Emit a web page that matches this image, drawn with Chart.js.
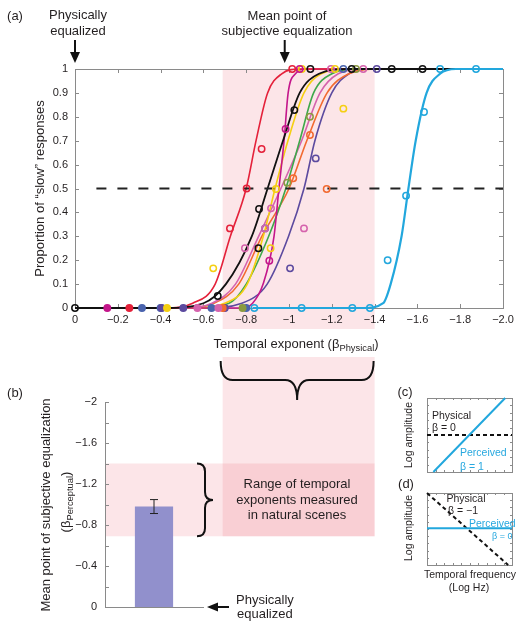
<!DOCTYPE html>
<html>
<head>
<meta charset="utf-8">
<script src="https://cdn.jsdelivr.net/npm/chart.js@4"></script>
<style>
    body { margin: 0; background: #fff; width: 525px; height: 630px; position: relative; overflow: hidden;
           font-family: 'Liberation Sans', Arial, sans-serif; color: #231f20; }
    canvas { position: absolute; }
    .t { position: absolute; white-space: nowrap; line-height: 1; transform: translate(-50%, -50%); font-size: 13px; }
    .l { transform: translate(0, -50%); }
    .r { transform: translate(-50%, -50%) rotate(-90deg); }
    .s { font-size: 10.5px; }
    .c { color: #27a8df; }
    sub { font-size: 0.72em; vertical-align: -0.35em; line-height: 0; }
</style>
</head>
<body>
<canvas id="chartA" width="525" height="345" style="left:0;top:0"></canvas>
<canvas id="chartB" width="400" height="280" style="left:0;top:350px"></canvas>
<canvas id="chartC" width="120" height="95" style="left:405px;top:385px"></canvas>
<canvas id="chartD" width="120" height="95" style="left:405px;top:480px"></canvas>

<div class="t" style="left:15px;top:15px">(a)</div>
<div class="t" style="left:78px;top:14px">Physically</div>
<div class="t" style="left:78px;top:30px">equalized</div>
<div class="t" style="left:287px;top:15px">Mean point of</div>
<div class="t" style="left:287px;top:30px">subjective equalization</div>
<div class="t" style="left:296px;top:343px">Temporal exponent (β<sub>Physical</sub>)</div>

<div class="t" style="left:15px;top:392px">(b)</div>
<div class="t r" style="left:45px;top:505px">Mean point of subjective equalization</div>
<div class="t r" style="left:65px;top:502px">(β<sub>Perceptual</sub>)</div>
<div class="t" style="left:297px;top:483px">Range of temporal</div>
<div class="t" style="left:297px;top:499px">exponents measured</div>
<div class="t" style="left:297px;top:514px">in natural scenes</div>
<div class="t l" style="left:236px;top:599px">Physically</div>
<div class="t l" style="left:237px;top:613px">equalized</div>

<div class="t" style="left:405px;top:391px">(c)</div>
<div class="t r s" style="left:408px;top:435px">Log amplitude</div>
<div class="t l s" style="left:432px;top:415px">Physical</div>
<div class="t l s" style="left:432px;top:427px">β = 0</div>
<div class="t l s c" style="left:460px;top:452px">Perceived</div>
<div class="t l s c" style="left:460px;top:466px">β = 1</div>

<div class="t" style="left:406px;top:483px">(d)</div>
<div class="t r s" style="left:408px;top:528px">Log amplitude</div>
<div class="t s" style="left:466px;top:498px">Physical</div>
<div class="t l s" style="left:448px;top:510px">β = −1</div>
<div class="t l s c" style="left:469px;top:523px">Perceived</div>
<div class="t l c" style="left:492px;top:536px;font-size:9px">β = 0</div>
<div class="t s" style="left:470px;top:574px">Temporal frequency</div>
<div class="t s" style="left:469px;top:587px">(Log Hz)</div>

<script>
// Panel (a): psychometric fits, read at these response levels
const fitLevels  = [0, 0, 0.02, 0.1, 0.3, 0.5, 0.7, 0.9, 0.98, 1, 1];
const redFit     = [0, -0.42, -0.55, -0.655, -0.726, -0.80, -0.846, -0.90, -0.966, -1.05, -2.0];
const magentaFit = [0, -0.78, -0.83, -0.879, -0.93, -0.953, -0.977, -0.996, -1.03, -1.08, -2.0];
const blackFit   = [0, -0.42, -0.60, -0.705, -0.826, -0.90, -0.972, -1.05, -1.14, -1.28, -2.0];
const yellowFit  = [0, -0.55, -0.70, -0.805, -0.88, -0.935, -0.995, -1.07, -1.15, -1.28, -2.0];
const greenFit   = [0, -0.55, -0.72, -0.80, -0.905, -0.985, -1.05, -1.115, -1.20, -1.32, -2.0];
const pinkFit    = [0, -0.50, -0.64, -0.75, -0.858, -0.962, -1.059, -1.145, -1.23, -1.35, -2.0];
const orangeFit  = [0, -0.50, -0.65, -0.765, -0.873, -1.0, -1.083, -1.178, -1.28, -1.42, -2.0];
const purpleFit  = [0, -0.60, -0.78, -0.898, -0.998, -1.07, -1.121, -1.20, -1.28, -1.38, -2.0];
const cyanFit    = [-0.83, -1.35, -1.44, -1.475, -1.526, -1.558, -1.592, -1.643, -1.706, -1.78, -2.0];

// measured proportions [beta, proportion slow]
const redPts     = [[-0.254, 0], [-0.724, 0.333], [-0.802, 0.5], [-0.872, 0.665], [-1.015, 1]];
const magentaPts = [[-0.151, 0], [-0.908, 0.198], [-0.984, 0.749], [-1.05, 1]];
const blackPts   = [[0, 0], [-0.667, 0.05], [-0.857, 0.25], [-0.86, 0.414], [-1.025, 0.828], [-1.10, 1], [-1.293, 1], [-1.48, 1], [-1.624, 1]];
const yellowPts  = [[-0.43, 0], [-0.646, 0.166], [-0.914, 0.25], [-0.939, 0.498], [-1.254, 0.834], [-1.06, 1], [-1.215, 1]];
const greenPts   = [[-0.783, 0], [-0.992, 0.524], [-1.098, 0.80], [-1.313, 1]];
const pinkPts    = [[-0.572, 0], [-0.67, 0], [-0.794, 0.25], [-0.888, 0.333], [-0.916, 0.417], [-1.07, 0.333], [-1.196, 1], [-1.347, 1]];
const orangePts  = [[-0.69, 0], [-1.02, 0.543], [-1.098, 0.724], [-1.176, 0.498]];
const purplePts  = [[-0.405, 0], [-0.506, 0], [-0.70, 0], [-1.005, 0.166], [-1.125, 0.626], [-1.41, 1]];
const bluePts    = [[-0.313, 0], [-0.40, 0], [-0.638, 0], [-0.80, 0], [-0.888, 0.333], [-1.254, 1]];
const cyanPts    = [[-0.838, 0], [-1.059, 0], [-1.296, 0], [-1.378, 0], [-1.461, 0.2], [-1.547, 0.47], [-1.631, 0.82], [-1.706, 1], [-1.874, 1]];

const criterionLine = [-0.1, -2.0];     // 50% line
const naturalRange  = [-0.69, -1.4];    // temporal exponents in natural scenes

// Panel (b)
const barLabels = ['PSE'];
const barMean   = [-0.98];
const barError  = [0.068];

// Panels (c), (d): schematic spectra
const cPhysical  = [[0, 0.5], [1, 0.5]];
const cPerceived = [[0.075, 0], [0.92, 1]];
const dPhysical  = [[0, 1], [0.955, 0]];
const dPerceived = [[0, 0.51], [1, 0.51]];

const axisGray  = '#8a8a8a';
const bandColor = 'rgba(238, 80, 100, 0.15)';
const ink = '#231f20';
Chart.defaults.font.family = "'Liberation Sans', Arial, sans-serif";
Chart.defaults.color = ink;

function pairs(arr) { return arr.map(p => ({ x: p[0], y: p[1] })); }
function fitData(xs) { return xs.map((x, i) => ({ x: x, y: fitLevels[i] })); }
function negLabel(v, longEnd) {
    v = Math.round(v * 10) / 10;
    if (v === 0) return '0';
    const a = Math.abs(v);
    return '\u2212' + (longEnd && a === 2 ? '2.0' : String(a));
}
function line(ctx, x0, y0, x1, y1) { ctx.beginPath(); ctx.moveTo(x0, y0); ctx.lineTo(x1, y1); ctx.stroke(); }

const fits = [
    { d: redFit, c: '#e4213a' }, { d: magentaFit, c: '#c4168b' }, { d: yellowFit, c: '#f5cf12' },
    { d: greenFit, c: '#3ea84a' }, { d: pinkFit, c: '#d563ad' }, { d: orangeFit, c: '#f26a30' },
    { d: purpleFit, c: '#5c4a9f' }
];
const points = [
    { d: redPts, c: '#e4213a', fill: true }, { d: magentaPts, c: '#c4168b', fill: true },
    { d: blackPts, c: '#111111', fill: false }, { d: yellowPts, c: '#f5cf12', fill: true },
    { d: greenPts, c: '#8a9a40', fill: true }, { d: pinkPts, c: '#d563ad', fill: true },
    { d: orangePts, c: '#f26a30', fill: true }, { d: purplePts, c: '#5c4a9f', fill: true },
    { d: bluePts, c: '#4a64ae', fill: true }, { d: cyanPts, c: '#22a7dd', fill: false }
];

const datasetsA = [];
points.forEach(p => {
    datasetsA.push({
        data: pairs(p.d), showLine: false, order: 0, clip: false,
        pointRadius: 3.2, pointBorderWidth: 1.5, pointBorderColor: p.c,
        pointBackgroundColor: ctx => (p.fill && ctx.raw && ctx.raw.y === 0) ? p.c : 'rgba(0,0,0,0)'
    });
});
datasetsA.push({
    data: criterionLine.map(x => ({ x: x, y: 0.5 })), order: 1, clip: false,
    borderColor: '#222', borderWidth: 2.2, borderDash: [10, 11], pointRadius: 0
});
datasetsA.push({ data: fitData(cyanFit), order: 2, borderColor: '#22a7dd', borderWidth: 2.2 });
datasetsA.push({ data: fitData(blackFit), order: 3, borderColor: '#111', borderWidth: 1.8 });
fits.forEach(f => datasetsA.push({ data: fitData(f.d), order: 4, borderColor: f.c, borderWidth: 1.6 }));
datasetsA.forEach(d => {
    if (d.order >= 2) { d.pointRadius = 0; d.cubicInterpolationMode = 'monotone'; d.clip = false; }
});

const panelA = {
    id: 'panelA',
    beforeDraw(chart) {
        const { ctx, chartArea: a, scales: { x } } = chart;
        const xl = x.getPixelForValue(naturalRange[0]), xr = x.getPixelForValue(naturalRange[1]);
        ctx.save();
        ctx.fillStyle = bandColor;
        ctx.fillRect(xl, a.top, xr - xl, a.bottom + 21 - a.top);
        ctx.restore();
    },
    beforeDatasetsDraw(chart) {
        const { ctx, chartArea: a, scales: { x, y } } = chart;
        ctx.save();
        ctx.strokeStyle = axisGray;
        ctx.lineWidth = 1;
        ctx.strokeRect(a.left + 0.5, a.top + 0.5, a.right - a.left, a.bottom - a.top);
        x.ticks.forEach(t => {
            const px = Math.round(x.getPixelForValue(t.value)) + 0.5;
            line(ctx, px, a.bottom, px, a.bottom - 4);
            line(ctx, px, a.top, px, a.top + 4);
        });
        y.ticks.forEach(t => {
            const py = Math.round(y.getPixelForValue(t.value)) + 0.5;
            line(ctx, a.left, py, a.left + 4, py);
            line(ctx, a.right, py, a.right - 4, py);
        });
        ctx.restore();
    },
    afterDraw(chart) {
        const { ctx, scales: { x } } = chart;
        ctx.save();
        ctx.fillStyle = '#111';
        ctx.strokeStyle = '#111';
        ctx.lineWidth = 2;
        [0, barMean[0]].forEach(v => {
            const px = x.getPixelForValue(v);
            line(ctx, px, 40, px, 54);
            ctx.beginPath();
            ctx.moveTo(px - 5, 52); ctx.lineTo(px + 5, 52); ctx.lineTo(px, 63);
            ctx.closePath(); ctx.fill();
        });
        ctx.restore();
    }
};

const chartA = new Chart(document.getElementById('chartA'), {
    type: 'line',
    data: { datasets: datasetsA },
    options: {
        responsive: false, animation: false, events: [],
        layout: { padding: { top: 69, right: 22 } },
        plugins: { legend: { display: false }, tooltip: { enabled: false } },
        scales: {
            x: {
                type: 'linear', reverse: true, min: -2, max: 0,
                grid: { display: false, drawTicks: false }, border: { display: false },
                ticks: { stepSize: 0.2, autoSkip: false, maxRotation: 0, padding: 5, font: { size: 11 },
                         callback: v => negLabel(v, true) },
                afterFit: s => { s.height = 37; }
            },
            y: {
                min: 0, max: 1,
                grid: { display: false, drawTicks: false }, border: { display: false },
                ticks: { stepSize: 0.1, padding: 7, font: { size: 11 },
                         callback: v => String(Math.round(v * 10) / 10) },
                title: { display: true, text: 'Proportion of \u201cslow\u201d responses', font: { size: 13 },
                         padding: { top: 33, bottom: 0 } },
                afterFit: s => { s.width = 75; }
            }
        }
    },
    plugins: [panelA]
});

function braceH(ctx, x0, x1, yTop, yMid, yTip) {
    const xm = (x0 + x1) / 2, r = 12;
    ctx.beginPath();
    ctx.moveTo(x0, yTop);
    ctx.quadraticCurveTo(x0, yMid, x0 + r, yMid);
    ctx.lineTo(xm - r, yMid);
    ctx.quadraticCurveTo(xm, yMid, xm, yTip);
    ctx.quadraticCurveTo(xm, yMid, xm + r, yMid);
    ctx.lineTo(x1 - r, yMid);
    ctx.quadraticCurveTo(x1, yMid, x1, yTop);
    ctx.stroke();
}
function braceV(ctx, y0, y1, xLeft, xMid, xTip) {
    const ym = (y0 + y1) / 2, r = 8;
    ctx.beginPath();
    ctx.moveTo(xLeft, y0);
    ctx.quadraticCurveTo(xMid, y0, xMid, y0 + r);
    ctx.lineTo(xMid, ym - r);
    ctx.quadraticCurveTo(xMid, ym, xTip, ym);
    ctx.quadraticCurveTo(xMid, ym, xMid, ym + r);
    ctx.lineTo(xMid, y1 - r);
    ctx.quadraticCurveTo(xMid, y1, xLeft, y1);
    ctx.stroke();
}

const panelB = {
    id: 'panelB',
    beforeDraw(chart) {
        const { ctx, chartArea: a, scales: { y } } = chart;
        const xa = chartA.scales.x;
        const xl = xa.getPixelForValue(naturalRange[0]), xr = xa.getPixelForValue(naturalRange[1]);
        const yTop = y.getPixelForValue(naturalRange[1]), yBot = y.getPixelForValue(naturalRange[0]);
        ctx.save();
        ctx.fillStyle = bandColor;
        ctx.fillRect(a.left, yTop, xr - a.left, yBot - yTop);
        ctx.fillRect(xl, 7, xr - xl, yBot - 7);
        ctx.restore();
    },
    afterDatasetsDraw(chart) {
        const { ctx, chartArea: a, scales: { x, y } } = chart;
        const xa = chartA.scales.x;
        ctx.save();
        ctx.strokeStyle = axisGray;
        ctx.lineWidth = 1;
        y.ticks.forEach(t => {
            const py = Math.round(y.getPixelForValue(t.value)) + 0.5;
            line(ctx, a.left, py, a.left + 4, py);
        });
        // error bar
        ctx.strokeStyle = '#222';
        const bx = x.getPixelForValue(0);
        const yHi = y.getPixelForValue(barMean[0] - barError[0]), yLo = y.getPixelForValue(barMean[0] + barError[0]);
        line(ctx, bx, yHi, bx, yLo);
        line(ctx, bx - 4, yHi, bx + 4, yHi);
        line(ctx, bx - 4, yLo, bx + 4, yLo);
        // braces
        ctx.strokeStyle = '#111';
        ctx.lineWidth = 2;
        braceH(ctx, xa.getPixelForValue(naturalRange[0]) - 2, xa.getPixelForValue(naturalRange[1]) - 1, 11, 30, 50);
        braceV(ctx, y.getPixelForValue(naturalRange[1]), y.getPixelForValue(naturalRange[0]), a.right - 6, a.right + 2, a.right + 10);
        // arrow to zero
        const y0 = y.getPixelForValue(0);
        ctx.fillStyle = '#111';
        line(ctx, a.right + 14, y0, a.right + 26, y0);
        ctx.beginPath();
        ctx.moveTo(a.right + 4, y0); ctx.lineTo(a.right + 15, y0 - 4.5); ctx.lineTo(a.right + 15, y0 + 4.5);
        ctx.closePath(); ctx.fill();
        ctx.restore();
    }
};

const chartB = new Chart(document.getElementById('chartB'), {
    type: 'bar',
    data: {
        labels: barLabels,
        datasets: [{ data: barMean, backgroundColor: '#9190cc', categoryPercentage: 1, barPercentage: 0.39 }]
    },
    options: {
        responsive: false, animation: false, events: [],
        layout: { padding: { top: 52, right: 197 } },
        plugins: { legend: { display: false }, tooltip: { enabled: false } },
        scales: {
            x: {
                grid: { display: false, drawTicks: false }, border: { color: axisGray },
                ticks: { display: false },
                afterFit: s => { s.height = 23; }
            },
            y: {
                reverse: true, min: -2, max: 0,
                grid: { display: false, drawTicks: false }, border: { color: axisGray },
                ticks: { stepSize: 0.2, autoSkip: false, padding: 8, font: { size: 11 },
                         callback: v => (Math.round(Math.round(v * 10)) % 4 === 0) ? negLabel(v, false) : '' },
                afterFit: s => { s.width = 105; }
            }
        }
    },
    plugins: [panelB]
});

const boxFrame = {
    id: 'boxFrame',
    beforeDatasetsDraw(chart) {
        const { ctx, chartArea: a } = chart;
        ctx.save();
        ctx.strokeStyle = axisGray;
        ctx.lineWidth = 1;
        ctx.strokeRect(a.left + 0.5, a.top + 0.5, a.right - a.left, a.bottom - a.top);
        for (let i = 1; i < 10; i++) {
            const px = Math.round(a.left + (a.right - a.left) * i / 10) + 0.5;
            const py = Math.round(a.top + (a.bottom - a.top) * i / 10) + 0.5;
            line(ctx, px, a.top, px, a.top + 2);
            line(ctx, px, a.bottom, px, a.bottom - 2);
            line(ctx, a.left, py, a.left + 2, py);
            line(ctx, a.right, py, a.right - 2, py);
        }
        ctx.restore();
    }
};

function schematic(id, physical, perceived, padBottom) {
    return new Chart(document.getElementById(id), {
        type: 'line',
        data: {
            datasets: [
                { data: pairs(perceived), borderColor: '#22a7dd', borderWidth: 2, pointRadius: 0, clip: false },
                { data: pairs(physical), borderColor: '#111', borderWidth: 2, borderDash: [4, 3], pointRadius: 0, clip: false }
            ]
        },
        options: {
            responsive: false, animation: false, events: [],
            layout: { padding: { left: 22, top: 13, right: 13, bottom: padBottom } },
            plugins: { legend: { display: false }, tooltip: { enabled: false } },
            scales: {
                x: { type: 'linear', min: 0, max: 1, display: false },
                y: { min: 0, max: 1, display: false }
            }
        },
        plugins: [boxFrame]
    });
}
schematic('chartC', cPhysical, cPerceived, 8);
schematic('chartD', dPhysical, dPerceived, 10);
</script>
</body>
</html>
